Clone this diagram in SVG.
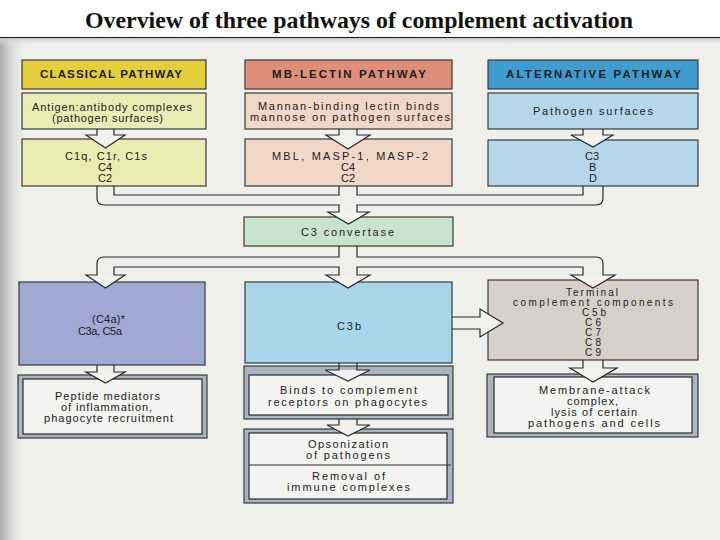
<svg xmlns="http://www.w3.org/2000/svg" width="720" height="540" viewBox="0 0 720 540">
<defs>
<linearGradient id="leftEdge" x1="0" y1="0" x2="1" y2="0">
<stop offset="0" stop-color="#a9a9a9"/>
<stop offset="1" stop-color="#efefeb" stop-opacity="0"/>
</linearGradient>
<linearGradient id="topEdge" x1="0" y1="0" x2="0" y2="1">
<stop offset="0" stop-color="#c4c4c4"/>
<stop offset="1" stop-color="#efefeb" stop-opacity="0"/>
</linearGradient>
</defs>
<style>
.hdr{font-family:"Liberation Sans",Arial,sans-serif;font-weight:bold;font-size:11.5px;fill:#1c1c1c}
.t{font-family:"Liberation Sans",Arial,sans-serif;font-size:11px;fill:#222}
.ts{font-family:"Liberation Sans",Arial,sans-serif;font-size:10px;fill:#222}
.box{stroke:#3a3a3a;stroke-width:1.2}
.res{fill:#aab4c0;stroke:#3a3a3a;stroke-width:1.2}
.resin{fill:#f3f3f1;stroke:#2a2a2a;stroke-width:1.2}
.ln{fill:none;stroke:#2a2a2a;stroke-width:1.2}
.hd{fill:#f1f1ee;stroke:none}
</style>
<rect x="0" y="0" width="720" height="540" fill="#ffffff"/>
<rect x="0" y="38" width="720" height="502" fill="#efefeb"/>
<rect x="0" y="38" width="28" height="502" fill="url(#leftEdge)"/>
<rect x="0" y="38" width="720" height="8" fill="url(#topEdge)"/>
<line x1="0" y1="37.5" x2="720" y2="37.5" stroke="#1a1a1a" stroke-width="1.2"/>
<text x="85" y="28" font-family="'Liberation Serif','Times New Roman',serif" font-weight="bold" font-size="24" fill="#111" textLength="548" lengthAdjust="spacingAndGlyphs">Overview of three pathways of complement activation</text>

<g id="classical-header"><rect class="box" x="22" y="60" width="184" height="29" fill="#e4ce3c"/><text class="hdr" x="40" y="78" textLength="142" lengthAdjust="spacing">CLASSICAL PATHWAY</text></g>
<g id="lectin-header"><rect class="box" x="245" y="60" width="207" height="29" fill="#dd8f79"/><text class="hdr" x="272" y="78" textLength="154" lengthAdjust="spacing">MB-LECTIN PATHWAY</text></g>
<g id="alternative-header"><rect class="box" x="488" y="60" width="210" height="29" fill="#3e9ccf"/><text class="hdr" x="506" y="78" textLength="175" lengthAdjust="spacing">ALTERNATIVE PATHWAY</text></g>

<g id="classical-trigger"><rect class="box" x="22" y="93" width="184" height="36" fill="#ebebb3"/>
<text class="t" x="32" y="111" textLength="160" lengthAdjust="spacing">Antigen:antibody complexes</text>
<text class="t" x="52" y="122" textLength="111" lengthAdjust="spacing">(pathogen surfaces)</text></g>
<g id="lectin-trigger"><rect class="box" x="245" y="93" width="207" height="36" fill="#f1d7c8"/>
<text class="t" x="258" y="110" textLength="181" lengthAdjust="spacing">Mannan-binding lectin binds</text>
<text class="t" x="250" y="121" textLength="200" lengthAdjust="spacing">mannose on pathogen surfaces</text></g>
<g id="alternative-trigger"><rect class="box" x="488" y="93" width="210" height="36" fill="#b6d6ea"/>
<text class="t" x="533" y="115" textLength="120" lengthAdjust="spacing">Pathogen surfaces</text></g>

<g id="classical-components"><rect class="box" x="22" y="139" width="184" height="47" fill="#ebebb3"/>
<text class="t" x="65" y="160" textLength="82" lengthAdjust="spacing">C1q, C1r, C1s</text>
<text class="t" x="98" y="171">C4</text>
<text class="t" x="98" y="182">C2</text></g>
<g id="lectin-components"><rect class="box" x="245" y="139" width="207" height="47" fill="#f1d7c8"/>
<text class="t" x="272" y="160" textLength="156" lengthAdjust="spacing">MBL, MASP-1, MASP-2</text>
<text class="t" x="341" y="171">C4</text>
<text class="t" x="341" y="182">C2</text></g>
<g id="alternative-components"><rect class="box" x="488" y="140" width="210" height="46" fill="#b6d6ea"/>
<text class="t" x="585" y="160">C3</text>
<text class="t" x="589" y="171">B</text>
<text class="t" x="589" y="182">D</text></g>

<g id="c3-convertase"><rect class="box" x="244" y="217" width="209" height="29" fill="#c9e2cc"/>
<text class="t" x="301" y="236" textLength="93" lengthAdjust="spacing">C3 convertase</text></g>

<g id="anaphylatoxins"><rect class="box" x="19" y="282" width="186" height="83" fill="#9fa9d3"/>
<text class="t" x="92" y="323" textLength="33" lengthAdjust="spacing">(C4a)*</text>
<text class="t" x="78" y="335" textLength="44" lengthAdjust="spacing">C3a, C5a</text></g>
<g id="c3b"><rect class="box" x="245" y="282" width="207" height="81" fill="#a9d5eb"/>
<text class="t" x="337" y="330" textLength="24" lengthAdjust="spacing">C3b</text></g>
<g id="terminal"><rect class="box" x="488" y="280" width="210" height="80" fill="#d8cfcb"/>
<text class="ts" x="566" y="295.5" textLength="52" lengthAdjust="spacing">Terminal</text>
<text class="ts" x="513" y="305.5" textLength="160" lengthAdjust="spacing">complement components</text>
<text class="ts" x="582" y="315.5" textLength="24" lengthAdjust="spacing">C5b</text>
<text class="ts" x="585" y="325.5" textLength="16" lengthAdjust="spacing">C6</text>
<text class="ts" x="585" y="335.5" textLength="16" lengthAdjust="spacing">C7</text>
<text class="ts" x="585" y="345.5" textLength="16" lengthAdjust="spacing">C8</text>
<text class="ts" x="585" y="355.5" textLength="16" lengthAdjust="spacing">C9</text></g>

<g id="peptide-mediators"><rect class="res" x="18" y="375" width="189" height="63"/><rect class="resin" x="23" y="379" width="179" height="55"/>
<text class="t" x="55" y="400" textLength="105" lengthAdjust="spacing">Peptide mediators</text>
<text class="t" x="61" y="411" textLength="91" lengthAdjust="spacing">of inflammation,</text>
<text class="t" x="44" y="422" textLength="129" lengthAdjust="spacing">phagocyte recruitment</text></g>
<g id="binds-receptors"><rect class="res" x="244" y="366" width="209" height="53"/><rect class="resin" x="249" y="375" width="199" height="40"/>
<text class="t" x="280" y="394" textLength="137" lengthAdjust="spacing">Binds to complement</text>
<text class="t" x="268" y="406" textLength="159" lengthAdjust="spacing">receptors on phagocytes</text></g>
<g id="opsonization"><rect class="res" x="244" y="429" width="209" height="74"/><rect class="resin" x="249" y="433" width="198" height="66"/>
<line x1="249" y1="465" x2="451" y2="465" stroke="#2a2a2a" stroke-width="1"/>
<text class="t" x="308" y="448" textLength="80" lengthAdjust="spacing">Opsonization</text>
<text class="t" x="306" y="459" textLength="84" lengthAdjust="spacing">of pathogens</text>
<text class="t" x="312" y="480" textLength="73" lengthAdjust="spacing">Removal of</text>
<text class="t" x="287" y="491" textLength="123" lengthAdjust="spacing">immune complexes</text></g>
<g id="membrane-attack"><rect class="res" x="487" y="374" width="211" height="63"/><rect class="resin" x="494" y="377" width="198" height="56"/>
<text class="t" x="539" y="394" textLength="111" lengthAdjust="spacing">Membrane-attack</text>
<text class="t" x="567" y="405" textLength="51" lengthAdjust="spacing">complex,</text>
<text class="t" x="551" y="416" textLength="86" lengthAdjust="spacing">lysis of certain</text>
<text class="t" x="528" y="427" textLength="132" lengthAdjust="spacing">pathogens and cells</text></g>

<g id="connectors">
<polygon class="hd" points="86,135 125,135 105.5,148"/>
<path class="ln" d="M97,129 V135 H86 L105.5,148 L125,135 H114 V129"/>
<polygon class="hd" points="326,135 370,135 348,149"/>
<path class="ln" d="M339,129 V135 H326 L348,149 L370,135 H357 V129"/>
<polygon class="hd" points="571,135 613,135 593,147"/>
<path class="ln" d="M583,129 V135 H571 L593,147 L613,135 H603 V129"/>

<polygon class="hd" points="328,212 369,212 348.5,224"/>
<path class="ln" d="M97,186 V198 Q97,205 104,205 H339 V212 H328 L348.5,224 L369,212 H357 V205 H596 Q603,205 603,198 V186"/>
<path class="ln" d="M114,186 V195 H339 V186 M357,186 V195 H583 V186"/>

<polygon class="hd" points="86,275 125,275 105.5,288"/>
<polygon class="hd" points="326,275 370,275 348,288"/>
<polygon class="hd" points="571,275 615,275 593,288"/>
<path class="ln" d="M339,246 V257 H104 Q97,257 97,264 V275 H86 L105.5,288 L125,275 H114 V267 H339 V275 H326 L348,288 L370,275 H357 V267 H583 V275 H571 L593,288 L615,275 H603 V264 Q603,257 596,257 H357 V246"/>

<polygon class="hd" points="86,372 125,372 105.5,383"/>
<path class="ln" d="M97,365 V372 H86 L105.5,383 L125,372 H114 V365"/>
<polygon class="hd" points="325,370 370,370 348,381"/>
<path class="ln" d="M339,363 V370 H325 L348,381 L370,370 H357 V363"/>
<polygon class="hd" points="327,425 370,425 348,436"/>
<path class="ln" d="M339,419 V425 H327 L348,436 L370,425 H357 V419"/>
<polygon class="hd" points="480,309 480,337 503,323"/>
<path class="ln" d="M452,317 H480 V309 L503,323 L480,337 V329 H452"/>
<polygon class="hd" points="570,368 617,368 593,382"/>
<path class="ln" d="M583,360 V368 H570 L593,382 L617,368 H603 V360"/>
</g>
</svg>
